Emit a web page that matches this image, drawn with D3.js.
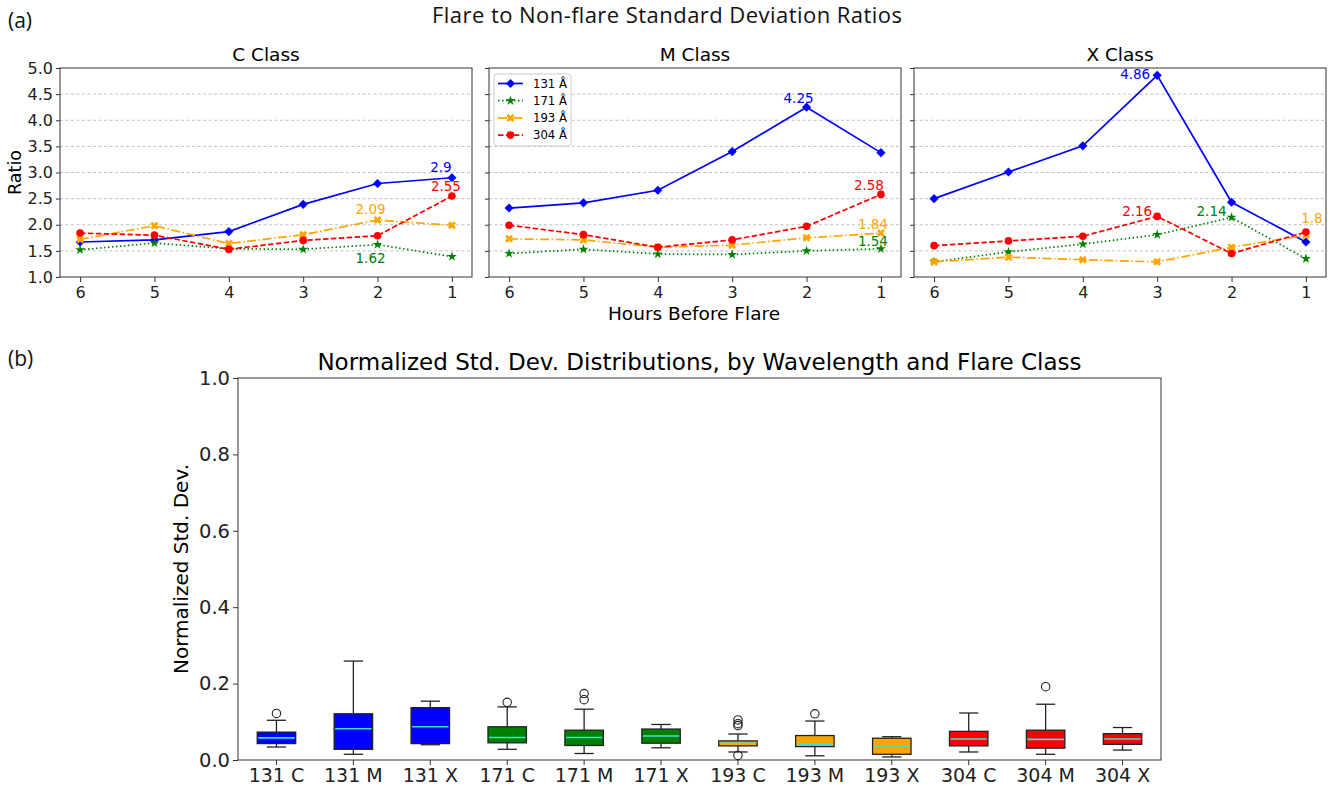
<!DOCTYPE html>
<html lang="en">
<meta charset="utf-8">
<head>
    <title>Flare to Non-flare Standard Deviation Ratios</title>
    <script src="https://cdn.jsdelivr.net/npm/d3@7"></script>
    <style>
        body { margin: 0; background: #fff; }
        svg { font-family: "DejaVu Sans", sans-serif; }
        .grid line { stroke: #b0b0b0; stroke-dasharray: 3,2.5; stroke-width: 0.8; }
        .axis path, .axis line { stroke: #333; }
        .axis text { fill: #222; }
        .outer { font-family: "Open Sans", sans-serif; fill: #111; }
    </style>
</head>
<body>
<script>
    // Data
    const hours = [6, 5, 4, 3, 2, 1];
    const classNames = ["C Class", "M Class", "X Class"];
    const wavelengths = ["131 Å", "171 Å", "193 Å", "304 Å"];

    // ratio per wavelength (131, 171, 193, 304), one row each
    const cClass = [
        [1.67, 1.71, 1.87, 2.39, 2.79, 2.90],
        [1.52, 1.65, 1.54, 1.53, 1.62, 1.39],
        [1.72, 1.98, 1.64, 1.81, 2.09, 1.99],
        [1.84, 1.80, 1.53, 1.70, 1.79, 2.55]
    ];
    const mClass = [
        [2.32, 2.42, 2.66, 3.40, 4.25, 3.38],
        [1.45, 1.53, 1.44, 1.43, 1.50, 1.54],
        [1.73, 1.71, 1.57, 1.61, 1.75, 1.84],
        [1.99, 1.81, 1.57, 1.71, 1.97, 2.58]
    ];
    const xClass = [
        [2.50, 3.01, 3.51, 4.86, 2.43, 1.67],
        [1.29, 1.48, 1.63, 1.81, 2.14, 1.35],
        [1.29, 1.38, 1.33, 1.29, 1.57, 1.80],
        [1.60, 1.69, 1.78, 2.16, 1.45, 1.86]
    ];
    const panelData = [cClass, mClass, xClass];

    // annotated values: [panel, series, hour, label]
    const annotations = [
        [0, 0, 1, "2.9"], [0, 3, 1, "2.55"], [0, 2, 2, "2.09"], [0, 1, 2, "1.62"],
        [1, 0, 2, "4.25"], [1, 3, 1, "2.58"], [1, 2, 1, "1.84"], [1, 1, 1, "1.54"],
        [2, 0, 3, "4.86"], [2, 3, 3, "2.16"], [2, 1, 2, "2.14"], [2, 2, 1, "1.8"]
    ];

    // box plot stats
    const boxLabels = ["131 C", "131 M", "131 X", "171 C", "171 M", "171 X",
                       "193 C", "193 M", "193 X", "304 C", "304 M", "304 X"];
    const whiskLo = [0.034, 0.015, 0.040, 0.028, 0.017, 0.032, 0.021, 0.011, 0.008, 0.021, 0.015, 0.026];
    const q1      = [0.043, 0.028, 0.043, 0.045, 0.038, 0.044, 0.037, 0.035, 0.015, 0.037, 0.031, 0.041];
    const median  = [0.058, 0.082, 0.087, 0.059, 0.059, 0.063, 0.044, 0.041, 0.037, 0.055, 0.054, 0.055];
    const q3      = [0.073, 0.121, 0.137, 0.087, 0.078, 0.081, 0.050, 0.064, 0.057, 0.075, 0.078, 0.069];
    const whiskHi = [0.104, 0.259, 0.154, 0.139, 0.133, 0.093, 0.068, 0.102, 0.061, 0.123, 0.146, 0.085];
    const fliers  = [[0.122], [], [], [0.151], [0.158, 0.174], [], [0.012, 0.090, 0.095, 0.105], [0.121], [], [], [0.192], []];

    const colors = ["#0000ff", "#008000", "#ffa500", "#ff0000"];
    const dashes = [null, "1.5,2.5", "9,2.5,1.5,2.5", "5.5,2.4"];
    const symbols = [d3.symbolSquare, d3.symbolStar, d3.symbolCross, d3.symbolCircle];
    const symSize = [42, 30, 40, 46];
    const symRot = [45, 0, 45, 0];
    // label offsets from their point (px)
    const labelDx = [-11, -6, -7, -7, -8, -12, -8, -8, -22, -20, -20, 6];
    const labelDy = [-6, -5, -6, 18, -4, -4, -4, -3, 4, 0, -1, -12];

    const W = 1331, H = 789;
    const svg = d3.select("body").append("svg").attr("width", W).attr("height", H);

    // ---------- (a) ----------
    svg.append("text").attr("class", "outer").attr("x", 8).attr("y", 28).attr("font-size", 21).text("(a)");
    svg.append("text").attr("class", "outer").attr("x", 667).attr("y", 23).attr("text-anchor", "middle")
        .attr("font-size", 22).attr("textLength", 470).attr("lengthAdjust", "spacing")
        .text("Flare to Non-flare Standard Deviation Ratios");

    const panelLeft = [60, 489, 914], panelW = 412, pTop = 68, pBottom = 277;
    const y = d3.scaleLinear().domain([1, 5]).range([pBottom, pTop]);

    panelData.forEach((rows, p) => {
        const x = d3.scaleLinear().domain([6.27, 0.73]).range([panelLeft[p], panelLeft[p] + panelW]);
        const g = svg.append("g");

        g.append("g").attr("class", "grid")
            .selectAll("line").data(d3.range(1.5, 5, 0.5)).join("line")
            .attr("x1", panelLeft[p]).attr("x2", panelLeft[p] + panelW)
            .attr("y1", d => y(d)).attr("y2", d => y(d));

        rows.forEach((vals, s) => {
            const pts = hours.map((h, i) => [h, vals[i]]);
            g.append("path").datum(pts)
                .attr("fill", "none").attr("stroke", colors[s]).attr("stroke-width", 1.7)
                .attr("stroke-dasharray", dashes[s])
                .attr("d", d3.line().x(d => x(d[0])).y(d => y(d[1])));
            g.selectAll(null).data(pts).join("path")
                .attr("transform", d => `translate(${x(d[0])},${y(d[1])}) rotate(${symRot[s]})`)
                .attr("d", d3.symbol(symbols[s], symSize[s]))
                .attr("fill", colors[s]);
        });

        g.append("rect").attr("x", panelLeft[p]).attr("y", pTop).attr("width", panelW).attr("height", pBottom - pTop)
            .attr("fill", "none").attr("stroke", "#333").attr("stroke-width", 1);

        const yAxis = d3.axisLeft(y).tickValues(d3.range(1, 5.01, 0.5)).tickSize(4).tickFormat(p === 0 ? d3.format(".1f") : "");
        g.append("g").attr("class", "axis").attr("transform", `translate(${panelLeft[p]},0)`).call(yAxis)
            .call(a => a.select(".domain").remove())
            .selectAll("text").attr("font-size", 16).attr("font-family", "DejaVu Sans");
        const xAxis = d3.axisBottom(x).tickValues(hours).tickSize(5).tickPadding(5).tickFormat(d3.format("d"));
        g.append("g").attr("class", "axis").attr("transform", `translate(0,${pBottom})`).call(xAxis)
            .call(a => a.select(".domain").remove())
            .selectAll("text").attr("font-size", 16).attr("font-family", "DejaVu Sans");

        g.append("text").attr("x", panelLeft[p] + panelW / 2).attr("y", 61).attr("text-anchor", "middle")
            .attr("font-size", 18.5).text(classNames[p]);

        annotations.forEach((a, k) => {
            if (a[0] !== p) return;
            const v = rows[a[1]][hours.indexOf(a[2])];
            g.append("text").attr("x", x(a[2]) + labelDx[k]).attr("y", y(v) + labelDy[k])
                .attr("text-anchor", "middle").attr("font-size", 13.5).attr("fill", colors[a[1]]).text(a[3]);
        });
    });

    svg.append("text").attr("transform", `translate(20.5,${(pTop + pBottom) / 2}) rotate(-90)`)
        .attr("text-anchor", "middle").attr("font-size", 17.5).text("Ratio");
    svg.append("text").attr("x", 694).attr("y", 320).attr("text-anchor", "middle")
        .attr("font-size", 18.5).text("Hours Before Flare");

    // legend
    const lg = svg.append("g").attr("transform", "translate(494,74)");
    lg.append("rect").attr("width", 77).attr("height", 72).attr("rx", 3)
        .attr("fill", "#fff").attr("fill-opacity", 0.8).attr("stroke", "#ccc");
    wavelengths.forEach((w, s) => {
        const yy = 9.5 + s * 17.2;
        lg.append("line").attr("x1", 4).attr("x2", 29).attr("y1", yy).attr("y2", yy)
            .attr("stroke", colors[s]).attr("stroke-width", 1.7).attr("stroke-dasharray", dashes[s]);
        lg.append("path").attr("transform", `translate(16.5,${yy}) rotate(${symRot[s]})`)
            .attr("d", d3.symbol(symbols[s], symSize[s])).attr("fill", colors[s]);
        lg.append("text").attr("x", 39).attr("y", yy + 4.3).attr("font-size", 11.7).text(w);
    });

    // ---------- (b) ----------
    svg.append("text").attr("class", "outer").attr("x", 8).attr("y", 366).attr("font-size", 21).text("(b)");
    const bl = 238, br = 1161, bt = 378, bb = 760;
    svg.append("text").attr("x", (bl + br) / 2).attr("y", 370).attr("text-anchor", "middle")
        .attr("font-size", 23).text("Normalized Std. Dev. Distributions, by Wavelength and Flare Class");

    const bx = d3.scaleBand().domain(boxLabels).range([bl, br]).paddingInner(0.5).paddingOuter(0.25);
    const by = d3.scaleLinear().domain([0, 1]).range([bb, bt]);
    const bw = bx.bandwidth();

    const bg = svg.append("g");
    boxLabels.forEach((lab, i) => {
        const cx = bx(lab) + bw / 2;
        const col = colors[Math.floor(i / 3)];
        const g = bg.append("g");
        g.append("line").attr("x1", cx).attr("x2", cx).attr("y1", by(whiskHi[i])).attr("y2", by(q3[i])).attr("stroke", "#222").attr("stroke-width", 1.3);
        g.append("line").attr("x1", cx).attr("x2", cx).attr("y1", by(q1[i])).attr("y2", by(whiskLo[i])).attr("stroke", "#222").attr("stroke-width", 1.3);
        [whiskHi[i], whiskLo[i]].forEach(v => {
            g.append("line").attr("x1", cx - bw / 4).attr("x2", cx + bw / 4).attr("y1", by(v)).attr("y2", by(v))
                .attr("stroke", "#222").attr("stroke-width", 1.3);
        });
        g.append("rect").attr("x", bx(lab)).attr("width", bw).attr("y", by(q3[i])).attr("height", by(q1[i]) - by(q3[i]))
            .attr("fill", col).attr("stroke", "#222").attr("stroke-width", 1.3);
        g.append("line").attr("x1", bx(lab) + 1).attr("x2", bx(lab) + bw - 1).attr("y1", by(median[i])).attr("y2", by(median[i]))
            .attr("stroke", "#40e0d0").attr("stroke-width", 1.6);
        g.selectAll("circle").data(fliers[i]).join("circle")
            .attr("cx", cx).attr("cy", d => by(d)).attr("r", 4.2)
            .attr("fill", "none").attr("stroke", "#222").attr("stroke-width", 1.1);
    });

    svg.append("rect").attr("x", bl).attr("y", bt).attr("width", br - bl).attr("height", bb - bt)
        .attr("fill", "none").attr("stroke", "#333").attr("stroke-width", 1);

    svg.append("g").attr("class", "axis").attr("transform", `translate(${bl},0)`)
        .call(d3.axisLeft(by).tickValues([0, 0.2, 0.4, 0.6, 0.8, 1.0]).tickSize(5).tickFormat(d3.format(".1f")))
        .call(a => a.select(".domain").remove())
        .selectAll("text").attr("font-size", 19.5).attr("font-family", "DejaVu Sans");
    svg.append("g").attr("class", "axis").attr("transform", `translate(0,${bb})`)
        .call(d3.axisBottom(bx).tickSize(5).tickPadding(4))
        .call(a => a.select(".domain").remove())
        .selectAll("text").attr("font-size", 19).attr("font-family", "DejaVu Sans");

    svg.append("text").attr("transform", `translate(188,${(bt + bb) / 2}) rotate(-90)`)
        .attr("text-anchor", "middle").attr("font-size", 20).text("Normalized Std. Dev.");
</script>
</body>
</html>
